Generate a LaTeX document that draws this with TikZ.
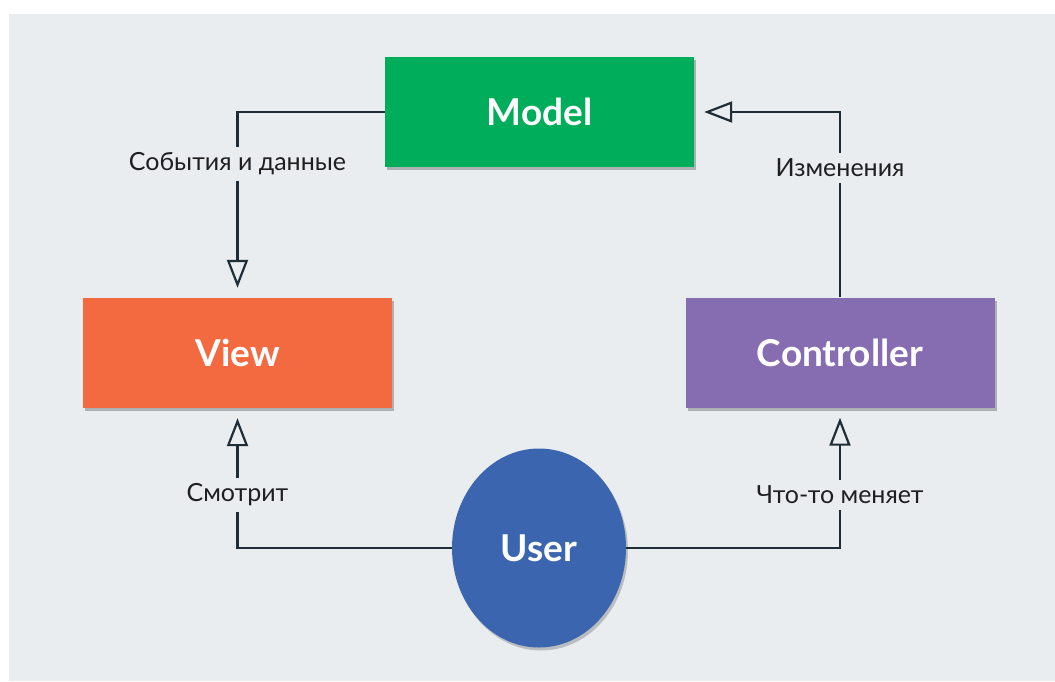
\documentclass[tikz,border=0pt]{standalone}
\usepackage{fontspec}
\setmainfont{Lato}
\usetikzlibrary{arrows.meta,shapes.geometric,shadows}

\definecolor{bgcol}{HTML}{E9EDF0}
\definecolor{linecol}{HTML}{1E2D36}
\definecolor{modelgreen}{HTML}{00AD5A}
\definecolor{vieworange}{HTML}{F46A40}
\definecolor{ctrlpurple}{HTML}{866CB0}
\definecolor{userblue}{HTML}{3C65B0}

\tikzset{>={Triangle[open,length=28pt,width=21pt]},
  box/.style={minimum width=309pt, minimum height=110pt, text=white,
    font=\fontsize{37}{40}\selectfont\bfseries,
    drop shadow={shadow xshift=2pt, shadow yshift=-3pt, opacity=.25, fill=black}},
  flow/.style={->, line width=2.2pt, draw=linecol, shorten >=10pt},
  lbl/.style={fill=bgcol, inner sep=6pt, text=black!88,
    font=\fontsize{25}{27}\selectfont}}

\begin{document}
\begin{tikzpicture}[x=1pt,y=-1pt]
      \useasboundingbox (0,0) rectangle (1055,681);
      \fill[bgcol] (9,14) rectangle (1055,681);

      \node[box, fill=modelgreen] (model) at (539.5,112) {Model};
      \node[box, fill=vieworange] (view) at (237.5,353) {View};
      \node[box, fill=ctrlpurple] (controller) at (840,352.5) {Controller};
      \node[ellipse, fill=userblue, minimum width=174pt, minimum height=199pt,
        inner sep=0pt, text=white, font=\fontsize{37}{40}\selectfont\bfseries,
        drop shadow={shadow xshift=2pt, shadow yshift=-3pt, opacity=.2, fill=black}]
        (user) at (539,548) {User};

      % arrows
      \draw[flow] (model.west) -| node[lbl, pos=.64] {События и данные} (view.north);
      \draw[flow] (controller.north) |- node[lbl, pos=.35] {Изменения} (model.east);
      \draw[flow] (user.west) -| node[lbl, pos=.69] {Смотрит} (view.south);
      \draw[flow] (user.east) -| node[lbl, pos=.69] {Что-то меняет} (controller.south);
    \end{tikzpicture}
\end{document}
